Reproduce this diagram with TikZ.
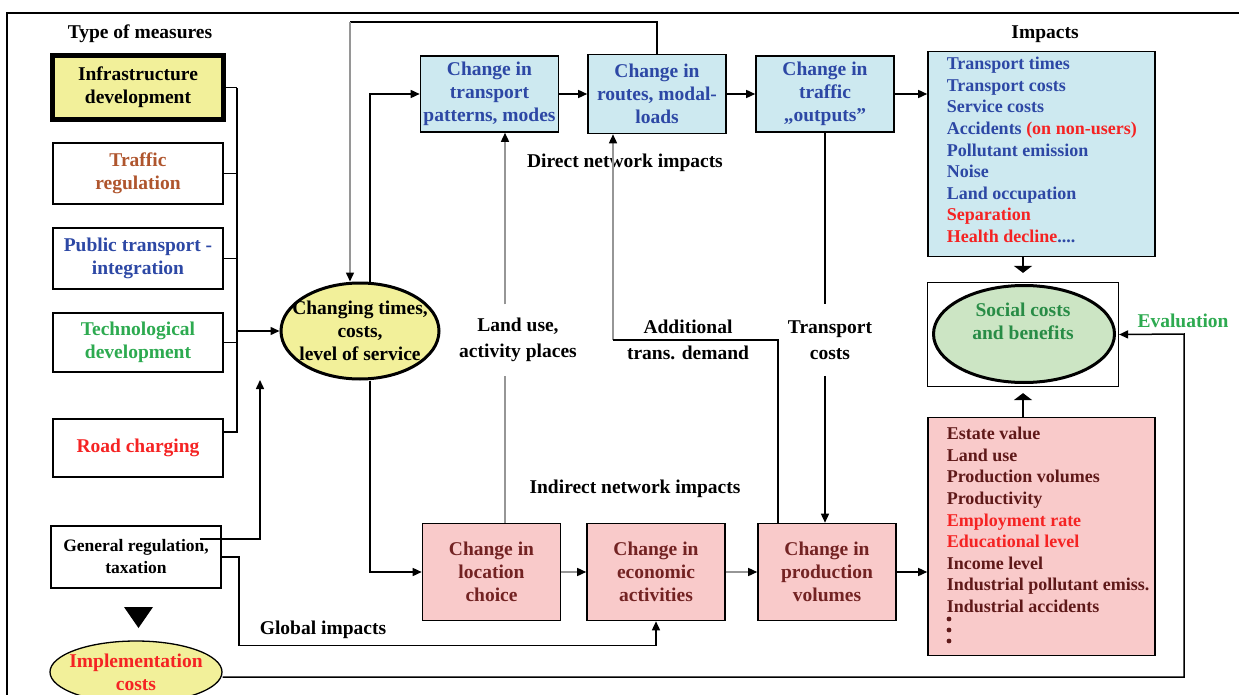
\documentclass[tikz,border=0pt]{standalone}
\usepackage{fontspec}
\setmainfont{Liberation Serif}
\usetikzlibrary{arrows.meta,shapes.geometric,calc}

\definecolor{boxblue}{RGB}{205,233,240}
\definecolor{boxpink}{RGB}{249,202,202}
\definecolor{boxyellow}{RGB}{242,240,154}
\definecolor{boxgreen}{RGB}{204,229,196}
\definecolor{txtblue}{RGB}{45,72,165}
\definecolor{txtred}{RGB}{245,35,35}
\definecolor{txtbrown}{RGB}{175,85,45}
\definecolor{txtgreen}{RGB}{45,170,80}
\definecolor{txtdkgreen}{RGB}{40,140,70}
\definecolor{txtmaroon}{RGB}{115,35,35}
\definecolor{txtlist}{RGB}{95,25,25}
\definecolor{linegray}{RGB}{150,150,150}

\tikzset{
  mbox/.style={draw, line width=1.6pt, minimum width=170pt, align=center, inner sep=2pt},
  flowbox/.style={draw, line width=1.6pt, minimum width=138pt, align=center, inner sep=2pt},
  bluebox/.style={flowbox, fill=boxblue, text=txtblue, minimum height=76pt},
  pinkbox/.style={flowbox, fill=boxpink, text=txtmaroon, minimum height=97pt},
  listbox/.style={draw, line width=1.6pt, minimum width=227pt},
  listtext/.style={anchor=west, align=left, inner sep=0pt,
                  font=\bfseries\fontsize{18}{21.6}\selectfont},
  midlabel/.style={align=center, minimum height=70pt, inner sep=0pt},
  oval/.style={ellipse, draw, inner sep=0pt},
  garrow/.style={draw=linegray, -{Triangle[length=9pt,width=8pt,color=black]}},
  bigtip/.style={-{Triangle[length=7pt,width=18pt]}},
}

\begin{document}
\begin{tikzpicture}[x=1pt, y=-1pt, line width=1.5pt,
    font=\bfseries\fontsize{19.5}{23}\selectfont,
    >={Triangle[length=9pt,width=8pt]}]
\useasboundingbox (0,0) rectangle (1239,695);

% outer frame
\draw[line width=2pt] (7,700) -- (7,13) -- (1245,13);

% titles
\node (ttl) at (140,34) {Type of measures};
\node (impttl) at (1045,34) {Impacts};

% type of measures
\node[mbox, fill=boxyellow, line width=5pt, minimum width=171pt, minimum height=64pt] (infra) at (138,87.5) {Infrastructure\\development};
\node[mbox, text=txtbrown, minimum height=61pt] (traffic) at (138,173.5) {Traffic\\regulation};
\node[mbox, text=txtblue, minimum height=61pt] (public) at (138,258.5) {Public transport -\\integration};
\node[mbox, text=txtgreen, minimum height=59pt] (tech) at (138,342.5) {Technological\\development};
\node[mbox, text=txtred, minimum height=58pt] (road) at (138,448) {Road charging};
\node[mbox, minimum height=62pt, font=\bfseries\fontsize{17.5}{22}\selectfont] (gen) at (136,557) {General regulation,\\taxation};
\fill (124,607) -- (153,607) -- (138.5,628) -- cycle;
\node[oval, line width=1.3pt, fill=boxyellow, minimum width=172pt, minimum height=62pt,
      label={[text=txtred, align=center]center:Implementation\\costs}] (impl) at (136,672) {};

% central ellipse
\node[oval, line width=3pt, fill=boxyellow, minimum width=158pt, minimum height=96pt,
      label={[align=center]center:Changing times,\\costs,\\level of service}] (ctc) at (360,331) {};

% direct network boxes
\node[bluebox] (box1) at (489.5,94) {Change in\\transport\\patterns, modes};
\node[bluebox, minimum height=79pt] (box2) at (657,94) {Change in\\routes, modal-\\loads};
\node[bluebox] (box3) at (825,94) {Change in\\traffic\\„outputs”};

% indirect network boxes
\node[pinkbox] (loc) at (491.5,572) {Change in\\location\\choice};
\node[pinkbox] (econ) at (656,572) {Change in\\economic\\activities};
\node[pinkbox] (prod) at (827,572) {Change in\\production\\volumes};

% impact lists
\node[listbox, fill=boxblue, minimum height=205pt] (imp) at (1041.5,154) {};
\node[listtext, text=txtblue] (implist) at (946,150) {%
Transport times\\Transport costs\\Service costs\\Accidents \textcolor{txtred}{(on non-users)}\\%
Pollutant emission\\Noise\\Land occupation\\\textcolor{txtred}{Separation}\\\textcolor{txtred}{Health decline}....};
\node[listbox, fill=boxpink, minimum height=238pt] (plist) at (1041.5,536.5) {};
\node[listtext, text=txtlist] (plisttxt) at (946,520) {%
Estate value\\Land use\\Production volumes\\Productivity\\\textcolor{txtred}{Employment rate}\\%
\textcolor{txtred}{Educational level}\\Income level\\Industrial pollutant emiss.\\Industrial accidents};
\foreach \yy in {619,630,641} \fill[txtlist] (949,\yy) circle (2.4pt);

% social costs and benefits
\node[draw, line width=1.2pt, minimum width=191pt, minimum height=104pt] (socbox) at (1023,334.5) {};
\node[oval, line width=3pt, fill=boxgreen, minimum width=181pt, minimum height=97pt] (soc) at (1024,334) {};
\node[align=center, text=txtdkgreen] (soctxt) at (1023,321) {Social costs\\and benefits};

% labels
\node (dni) at (625,163) {Direct network impacts};
\node (ini) at (635,489) {Indirect network impacts};
\node[midlabel] (landuse) at (518,340) {Land use,\\[3pt]activity places};
\node[midlabel] (adem) at (688,340) {Additional\\[3pt]trans. demand};
\node[midlabel] (tcost) at (830,340) {Transport\\[3pt]costs};
\node (glob) at (323,630) {Global impacts};
\node[text=txtgreen] (eval) at (1183,321) {Evaluation};

% measures bus into the central ellipse
\coordinate (busTop) at (237,88);
\coordinate (busBot) at (237,432);
\draw (infra.east) -- (infra.east -| busTop);
\draw (busTop) -- (busBot) -- (busBot -| road.east);
\draw (traffic.east) -- (traffic.east -| busTop);
\draw (public.east) -- (public.east -| busTop);
\draw (tech.east) -- (tech.east -| busTop);
\draw[->] (busTop |- ctc.west) -- (ctc.west);

% general regulation links
\coordinate (genUp) at (260,380);
\draw[->] ([xshift=-22pt,yshift=18pt]gen.east) -| (genUp);
\draw[->] (gen.east) -- ++(17,0) |- ([yshift=-24pt]econ.south) -- (econ.south);

% implementation costs to evaluation
\coordinate (evalc) at (1184,334);
\draw[->] ([yshift=-5pt]impl.east) -| (evalc) -- (socbox.east);

% feedback from routes to the central ellipse
\coordinate (fbk) at (350,22);
\draw (box2.north) |- (fbk);
\draw[garrow] (fbk) -- (fbk |- ctc.north);

% central ellipse to both chains
\draw[->] ([xshift=10pt]ctc.north) |- (box1.west);
\draw[->] ([xshift=10pt]ctc.south) |- (loc.west);

% direct chain
\draw[->] (box1.east) -- (box2.west);
\draw[->] (box2.east) -- (box3.west);
\draw[->] (box3.east) -- (box3.east -| imp.west);

% indirect chain
\draw[garrow] (loc.east) -- (econ.west);
\draw[garrow] (econ.east) -- (prod.west);
\draw[->] (prod.east) -- (prod.east -| plist.west);

% cross links
\draw[draw=linegray] ([xshift=13.5pt]loc.north) -- ([xshift=13.5pt]loc.north |- landuse.south);
\draw[garrow] ([xshift=13.5pt]loc.north |- landuse.north) -- ([xshift=13.5pt]loc.north |- box1.south);
\coordinate (ad) at (613,340);
\draw[garrow] (ad) -- (ad |- box2.south);
\draw (ad) -| ([xshift=-49pt]prod.north);
\draw (box3.south) -- (box3.south |- tcost.north);
\draw[->] (box3.south |- tcost.south) -- (box3.south |- prod.north);

% into social costs and benefits
\draw[bigtip, shorten >=9pt] (socbox.north |- imp.south) -- (socbox.north);
\draw[bigtip, shorten >=6pt] (socbox.south |- plist.north) -- (socbox.south);
\end{tikzpicture}
\end{document}
